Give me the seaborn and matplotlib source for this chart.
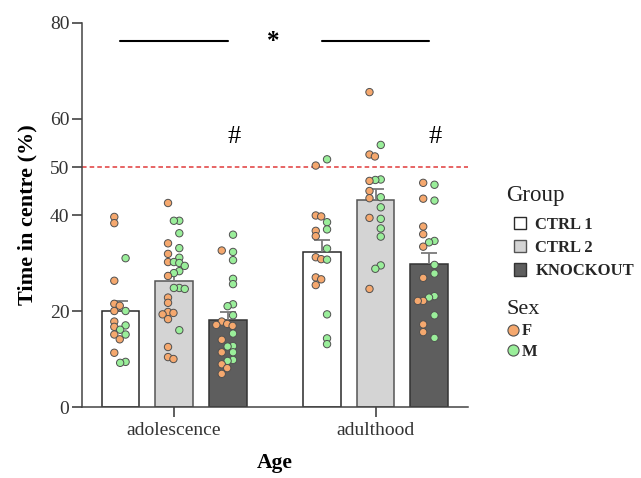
import numpy as np
import pandas as pd
import matplotlib
matplotlib.use("Agg")
import matplotlib.pyplot as plt
import seaborn as sns
from matplotlib.patches import Patch
from matplotlib.lines import Line2D

# ---------------- data ----------------
ages = ["adolescence", "adulthood"]
groups = ["CTRL 1", "CTRL 2", "KNOCKOUT"]
sexes = ["F", "M"]

adol_ctrl1_F = [39.6, 38.3, 26.3, 21.5, 21.1, 20.0, 17.8, 16.7, 15.1, 14.1, 11.3]
adol_ctrl1_M = [31.0, 20.0, 17.0, 16.1, 15.1, 9.2, 9.4]
adol_ctrl2_F = [42.5, 34.1, 31.9, 30.2, 27.3, 22.8, 21.7, 19.6, 19.8, 19.3, 18.3, 12.5, 10.4, 10.0]
adol_ctrl2_M = [38.8, 38.8, 36.2, 33.1, 31.1, 30.2, 30.0, 29.4, 28.3, 27.9, 24.8, 24.6, 24.8, 16.0]
adol_ko_F = [32.6, 17.8, 17.3, 17.1, 16.9, 14.0, 11.4, 8.9, 8.1, 6.9]
adol_ko_M = [35.9, 32.3, 30.6, 26.7, 25.6, 21.4, 21.0, 19.1, 15.3, 12.7, 12.6, 11.4, 9.6, 9.8]
adult_ctrl1_F = [50.3, 39.9, 39.7, 36.7, 35.6, 31.2, 30.8, 27.0, 26.6, 25.4]
adult_ctrl1_M = [51.6, 38.5, 37.0, 33.0, 30.7, 19.3, 14.3, 13.1]
adult_ctrl2_F = [65.6, 52.6, 52.2, 47.1, 45.0, 43.5, 39.4, 24.6]
adult_ctrl2_M = [54.6, 47.4, 47.3, 43.7, 41.6, 39.2, 37.2, 35.5, 29.5, 28.8]
adult_ko_F = [46.7, 43.4, 37.6, 36.0, 33.4, 26.9, 22.1, 22.1, 17.2, 15.6]
adult_ko_M = [46.3, 43.0, 34.6, 34.3, 29.6, 27.8, 23.1, 22.8, 19.1, 14.4]

y_ticks = [0, 20, 40, 50, 60, 80]
threshold = 50

cells = {
    ("adolescence", "CTRL 1"): (adol_ctrl1_F, adol_ctrl1_M),
    ("adolescence", "CTRL 2"): (adol_ctrl2_F, adol_ctrl2_M),
    ("adolescence", "KNOCKOUT"): (adol_ko_F, adol_ko_M),
    ("adulthood", "CTRL 1"): (adult_ctrl1_F, adult_ctrl1_M),
    ("adulthood", "CTRL 2"): (adult_ctrl2_F, adult_ctrl2_M),
    ("adulthood", "KNOCKOUT"): (adult_ko_F, adult_ko_M),
}

# ---------------- style ----------------
sns.set_theme(style="ticks")
plt.rcParams["font.family"] = ["Liberation Serif", "DejaVu Serif"]
TXT = "#333333"

group_colors = {"CTRL 1": "#ffffff", "CTRL 2": "#d4d4d4", "KNOCKOUT": "#5e5e5e"}
group_edges = {"CTRL 1": "#2a2a2a", "CTRL 2": "#555555", "KNOCKOUT": "#333333"}
sex_colors = {"F": "#f5a86e", "M": "#9aee9a"}

rows = []
for (age, grp), (fv, mv) in cells.items():
    for s, vals in zip(sexes, (fv, mv)):
        for v in vals:
            rows.append({"Age": age, "Group": grp, "Sex": s, "value": v})
df = pd.DataFrame(rows)
stats = (df.groupby(["Age", "Group"])["value"].agg(["mean", "sem"])
         .reset_index())

fig = plt.figure(figsize=(6.41, 4.78), dpi=100)
ax = fig.add_axes([82 / 641, 1 - 407 / 478, (468 - 82) / 641, (407 - 23) / 478])

sns.barplot(data=stats, x="Age", y="mean", hue="Group", order=ages,
            hue_order=groups, palette=group_colors, dodge=True, gap=0.3,
            errorbar=None, edgecolor="#333333", linewidth=1.1,
            legend=False, ax=ax, zorder=2)
for p in ax.patches:
    fc = matplotlib.colors.to_hex(p.get_facecolor())
    for g, c in group_colors.items():
        if fc == c:
            p.set_edgecolor(group_edges[g])

slot = 0.8 / len(groups)
def pos(ai, gi):
    return ai + (gi - (len(groups) - 1) / 2) * slot

# error bars (upper only)
for _, r in stats.iterrows():
    x = pos(ages.index(r["Age"]), groups.index(r["Group"]))
    top = r["mean"] + r["sem"]
    ax.vlines(x, r["mean"], top, color="#7a7a7a", lw=1.3, zorder=3)
    ax.hlines(top, x - 0.04, x + 0.04, color="#7a7a7a", lw=1.3, zorder=3)

# point layout (simple beeswarm, F to the left, M to the right)
XPX, YPX, DIAM = 201.5, 4.8, 6.8
pts = []
for (age, grp), (fv, mv) in cells.items():
    c = pos(ages.index(age), groups.index(grp))
    items = [(v, "F") for v in fv] + [(v, "M") for v in mv]
    items.sort(key=lambda t: -t[0])
    placed = []
    for v, s in items:
        base = c + (-0.03 if s == "F" else 0.026)
        step = 0.8 * DIAM / XPX
        for k in range(40):
            off = ((k + 1) // 2) * step * (1 if k % 2 else -1)
            if s == "M":
                off = -off
            x = base + off
            ok = all(((x - px) * XPX) ** 2 + ((v - pv) * YPX) ** 2 >= (DIAM * 0.75) ** 2
                     for px, pv in placed)
            if ok:
                break
        placed.append((x, v))
        pts.append({"x": x, "value": v, "Sex": s})
pts = pd.DataFrame(pts)

sns.scatterplot(data=pts, x="x", y="value", hue="Sex", palette=sex_colors,
                edgecolor="#505050", linewidth=0.7, s=28, legend=False,
                zorder=5, ax=ax)

ax.axhline(threshold, color="#e03a3a", ls=(0, (3, 2)), lw=1.1, zorder=1)

# significance annotations
ax.plot([pos(0, 0), pos(0, 2)], [76.2, 76.2], color="black", lw=1.5)
ax.plot([pos(1, 0), pos(1, 2)], [76.2, 76.2], color="black", lw=1.5)
ax.text(0.49, 76.2, "*", ha="center", va="center", fontsize=18, color="black",
        fontweight="bold")
for ai in range(2):
    ax.text(pos(ai, 2) + 0.03, 56.2, "#", ha="center", va="center",
            fontsize=19, color="black")

ax.set_xlim(-0.457, 1.459)
ax.set_ylim(0, 80)
ax.set_yticks(y_ticks)
ax.set_xticks([0, 1])
ax.set_xticklabels(ages)
ax.tick_params(axis="both", colors=TXT, labelsize=14, length=7, width=1.1,
               pad=2)
ax.tick_params(axis="x", pad=4)
for sp in ["top", "right"]:
    ax.spines[sp].set_visible(False)
for sp in ["left", "bottom"]:
    ax.spines[sp].set_color("#444444")
    ax.spines[sp].set_linewidth(1.1)

ax.set_xlabel("Age", fontsize=15.5, fontweight="bold", color="black", labelpad=10)
ax.set_ylabel("Time in centre (%)", fontsize=16, fontweight="bold",
              color="black", labelpad=9)

# legends
fig.text(506 / 641, 1 - 195 / 478, "Group", fontsize=16.5, color="#222222",
         ha="left", va="center")
fig.text(506 / 641, 1 - 309 / 478, "Sex", fontsize=16, color="#222222",
         ha="left", va="center")

gh = [Patch(facecolor=group_colors[g], edgecolor=group_edges[g], linewidth=1.0)
      for g in groups]
leg1 = fig.legend(gh, groups, loc="upper left",
                  bbox_to_anchor=(502 / 641, 1 - 205 / 478),
                  frameon=False, fontsize=12, handlelength=0.75,
                  handleheight=0.75, handletextpad=0.55, labelspacing=0.44,
                  borderpad=0.2)
for t in leg1.get_texts():
    t.set_fontweight("bold")
sh = [Line2D([], [], ls="", marker="o", markersize=8,
             markerfacecolor=sex_colors[s], markeredgecolor="#505050",
             markeredgewidth=0.8) for s in sexes]
leg2 = fig.legend(sh, sexes, loc="upper left",
                  bbox_to_anchor=(498 / 641, 1 - 315 / 478), frameon=False,
                  fontsize=12, handlelength=0.8, handletextpad=0.1,
                  labelspacing=0.26, borderpad=0.0)
for t in leg2.get_texts():
    t.set_fontweight("bold")

fig.savefig("out.png", dpi=100)
